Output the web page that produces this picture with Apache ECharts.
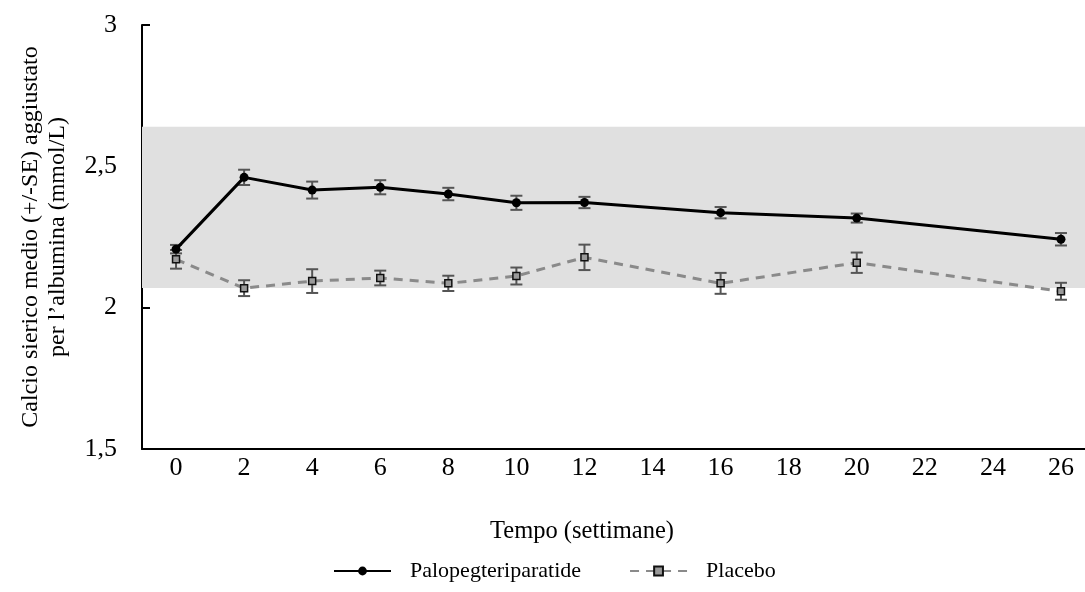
<!DOCTYPE html>
<html>
<head>
<meta charset="utf-8">
<script src="https://cdn.jsdelivr.net/npm/echarts@6/dist/echarts.min.js"></script>
<style>
  html, body { margin: 0; padding: 0; overflow: hidden; background: #fff; }
  #chart { width: 1096px; height: 592px; }
</style>
</head>
<body>
<div id="chart"></div>
<script>
// settimane (asse x)
const weeks = ['0', '2', '4', '6', '8', '10', '12', '14', '16', '18', '20', '22', '24', '26'];

const palopeg = [2.207, 2.461, 2.416, 2.426, 2.402, 2.371, 2.372, null, 2.336, null, 2.317, null, null, 2.242];
const palopegSE = [0.015, 0.027, 0.030, 0.025, 0.022, 0.025, 0.020, null, 0.020, null, 0.016, null, null, 0.022];
const placebo = [2.171, 2.069, 2.094, 2.105, 2.086, 2.112, 2.178, null, 2.086, null, 2.159, null, null, 2.058];
const placeboSE = [0.033, 0.028, 0.042, 0.026, 0.027, 0.030, 0.045, null, 0.037, null, 0.036, null, null, 0.030];

// intervallo normale (banda grigia)
const normalRange = [2.07, 2.64];
const yTicks = [1.5, 2, 2.5, 3];

const font = 'Liberation Serif, Times New Roman, serif';

// dati per le barre di errore
const errData = (mean, se) => mean
  .map((m, i) => m == null ? null : [i, m - se[i], m + se[i]])
  .filter(d => d);

const errorBars = (name, data) => ({
  name: name + '_err',
  type: 'custom',
  z: 3,
  silent: true,
  data: data,
  renderItem: (params, api) => {
    const lo = api.coord([api.value(0), api.value(1)]);
    const hi = api.coord([api.value(0), api.value(2)]);
    const w = 6;
    const style = { stroke: '#555', lineWidth: 2 };
    return {
      type: 'group',
      children: [
        { type: 'line', shape: { x1: lo[0], y1: lo[1], x2: hi[0], y2: hi[1] }, style },
        { type: 'line', shape: { x1: lo[0] - w, y1: lo[1], x2: lo[0] + w, y2: lo[1] }, style },
        { type: 'line', shape: { x1: hi[0] - w, y1: hi[1], x2: hi[0] + w, y2: hi[1] }, style }
      ]
    };
  }
});

const chart = echarts.init(document.getElementById('chart'));

chart.setOption({
  animation: false,
  textStyle: { fontFamily: font, color: '#000' },
  grid: { left: 142, right: 1, top: 25, bottom: 143, outerBoundsMode: 'none' },
  graphic: [{
    type: 'text',
    left: 490,
    top: 519,
    style: { text: 'Tempo (settimane)', font: '24.5px ' + font, fill: '#000' }
  }],
  legend: {
    left: 328,
    top: 555,
    itemWidth: 57,
    itemHeight: 11,
    itemGap: 48,
    data: ['Palopegteriparatide', 'Placebo'],
    textStyle: { fontFamily: font, fontSize: 22, color: '#000', padding: [0, 0, 0, 14] }
  },
  xAxis: {
    type: 'category',
    data: weeks,
    boundaryGap: true,
    axisLine: { lineStyle: { color: '#000', width: 2 } },
    axisTick: { alignWithLabel: true, inside: true, length: 7, lineStyle: { color: '#000', width: 2 } },
    axisLabel: { fontFamily: font, fontSize: 26, color: '#000', margin: 6, interval: 0 },
    splitLine: { show: false }
  },
  yAxis: {
    type: 'value',
    min: yTicks[0],
    max: yTicks[yTicks.length - 1],
    interval: 0.5,
    name: 'Calcio sierico medio (+/-SE) aggiustato\nper l\u2019albumina (mmol/L)',
    nameLocation: 'middle',
    nameGap: 71,
    nameTextStyle: { fontFamily: font, fontSize: 24, color: '#000', lineHeight: 27 },
    axisLine: { show: true, lineStyle: { color: '#000', width: 2 } },
    axisTick: { show: true, inside: true, length: 8, lineStyle: { color: '#000', width: 2 } },
    axisLabel: {
      fontFamily: font, fontSize: 26, color: '#000', margin: 25,
      formatter: v => String(v).replace('.', ',')
    },
    splitLine: { show: false }
  },
  series: [
    {
      name: 'Palopegteriparatide',
      type: 'line',
      data: palopeg,
      connectNulls: true,
      z: 5,
      symbol: 'circle',
      symbolSize: 9,
      itemStyle: { color: '#000' },
      lineStyle: { color: '#000', width: 3 },
      markArea: {
        silent: true,
        itemStyle: { color: '#e0e0e0' },
        data: [[{ yAxis: normalRange[0] }, { yAxis: normalRange[1] }]]
      }
    },
    {
      name: 'Placebo',
      type: 'line',
      data: placebo,
      connectNulls: true,
      z: 4,
      symbol: 'rect',
      symbolSize: 7,
      itemStyle: { color: '#9a9a9a', borderColor: '#111', borderWidth: 1.5 },
      lineStyle: { color: '#8a8a8a', width: 3, type: [9, 7] }
    },
    errorBars('Palopegteriparatide', errData(palopeg, palopegSE)),
    errorBars('Placebo', errData(placebo, placeboSE))
  ]
});
</script>
</body>
</html>
